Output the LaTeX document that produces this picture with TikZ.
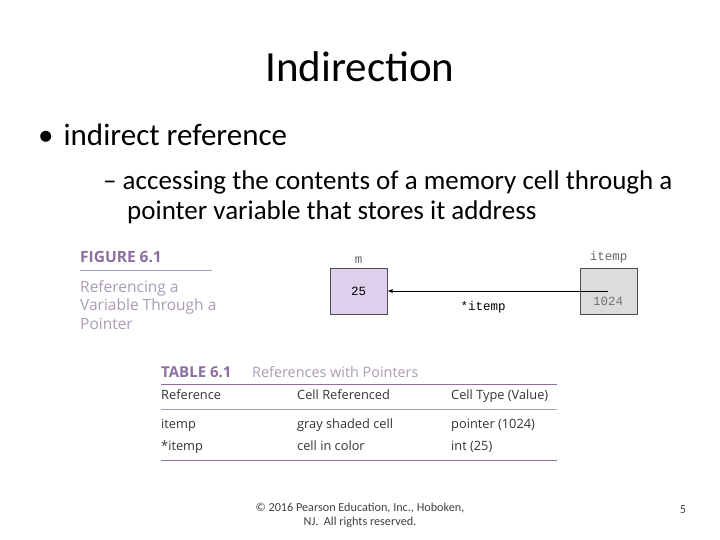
\documentclass[tikz,border=0pt]{standalone}
\usepackage{fontspec}
\usetikzlibrary{positioning}
\setmainfont{Carlito}
\newfontfamily\figfont{Open Sans}
\setmonofont{Liberation Mono}
\definecolor{figpurple}{RGB}{140,110,160}
\definecolor{cellpurple}{RGB}{222,208,236}
\definecolor{cellgray}{RGB}{220,220,220}
\begin{document}
\begin{tikzpicture}
        [x=1pt,y=-1pt,
        txt/.style={anchor=base west,inner sep=0pt},
        cell/.style={draw=black!70,line width=0.8pt,minimum width=57pt,minimum height=46pt,inner sep=0pt},
        mono/.style={font=\ttfamily\fontsize{12.5}{14}\selectfont,inner sep=1pt},
        tab/.style={txt,font=\figfont\fontsize{12.8}{15}\selectfont,text=black!80},
        rule/.style={figpurple,line width=1pt}]
        \useasboundingbox (0,0) rectangle (720,540);
        % title and bullets
        \node (title) at (360,67) {\fontsize{43}{50}\selectfont Indirection};
        \node[txt] (b1) at (38,146) {\fontsize{31}{36}\selectfont\textbullet\hspace{10pt}indirect reference};
        \node[txt] (b2) at (103,190) {\fontsize{27}{32}\selectfont -- accessing the contents of a memory cell through a};
        \node[txt] (b3) at (127,220) {\fontsize{27}{32}\selectfont pointer variable that stores it address};
        % figure caption
        \node[txt] (fig) at (80,262) {\figfont\bfseries\fontsize{15.5}{18}\selectfont\color{figpurple}FIGURE 6.1};
        \draw[figpurple!70,line width=0.6pt] (80,270) -- (212,270);
        \node[txt,align=left,anchor=north west,text=figpurple!80!black!60,
            font=\figfont\fontsize{15.5}{18.5}\selectfont] (cap) at (80,280)
            {Referencing a\\Variable Through a\\Pointer};
        % cells
        \node[cell,fill=cellpurple] (m) at (358.5,291) {};
        \node[cell,fill=cellgray] (itemp) at (608.5,291) {};
        \node[mono] (mval) at (m) {25};
        \node[mono,text=black!55] (ival) at (608,301) {1024};
        \node[mono,text=black!60,above=3pt of m] (mlab) {m};
        \node[mono,text=black!60,above=3pt of itemp] (ilab) {itemp};
        \coordinate (ptr) at (608,291);
        \draw[-latex,line width=0.8pt] (ptr) -- (m.east |- ptr);
        \node[mono] (star) at (483,307) {*itemp};
        % table
        \node[txt] (tabno) at (161,377) {\figfont\bfseries\fontsize{15}{17}\selectfont\color{figpurple}TABLE 6.1};
        \node[txt] (tabcap) at (252,377) {\figfont\fontsize{14.4}{17}\selectfont\color{figpurple!80!black!60}References with Pointers};
        \draw[rule] (161,384) -- (557,384);
        \node[tab] (h1) at (161,399) {Reference};
        \node[tab] (h2) at (297,399) {Cell Referenced};
        \node[tab] (h3) at (451,399) {Cell Type (Value)};
        \draw[figpurple!70,line width=0.6pt] (161,409) -- (557,409);
        \node[tab] (r1a) at (161,428) {itemp};
        \node[tab] (r1b) at (297,428) {gray shaded cell};
        \node[tab] (r1c) at (451,428) {pointer (1024)};
        \node[tab] (r2a) at (161,450) {*itemp};
        \node[tab] (r2b) at (297,450) {cell in color};
        \node[tab] (r2c) at (451,450) {int (25)};
        \draw[rule] (161,460) -- (557,460);
        % footer
        \node[align=center,text=black!75,font=\fontsize{12.2}{14}\selectfont] (foot) at (360,515)
            {© 2016 Pearson Education, Inc., Hoboken,\\NJ.\ \ All rights reserved.};
        \node[text=black!75,font=\fontsize{12.2}{14}\selectfont] (page) at (683,510) {5};
    \end{tikzpicture}
\end{document}
